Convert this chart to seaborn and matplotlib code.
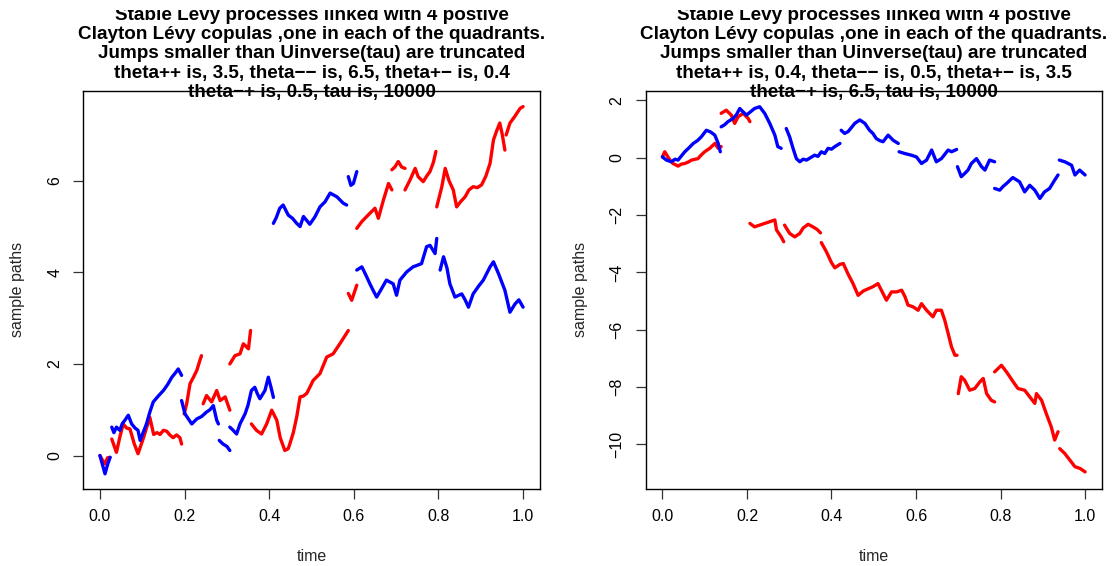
import numpy as np
import pandas as pd
import matplotlib
matplotlib.use("Agg")
import matplotlib.pyplot as plt
from matplotlib.transforms import Bbox
import seaborn as sns

# ---------------------------------------------------------------------------
# Sample paths, one list of (time, value) pieces per series; a new piece
# starts after every jump.
# ---------------------------------------------------------------------------
left_red = [
    [(0, 0), (0.006, -0.1), (0.012, -0.18), (0.018, -0.05), (0.024, -0.04)],
    [(0.028, 0.36), (0.034, 0.2), (0.039, 0.07), (0.047, 0.4), (0.055, 0.69),
     (0.063, 0.6), (0.071, 0.58), (0.081, 0.26), (0.09, 0.04), (0.096, 0.2),
     (0.102, 0.36), (0.11, 0.6), (0.118, 0.83), (0.127, 0.46), (0.135, 0.5),
     (0.142, 0.46), (0.15, 0.55), (0.158, 0.53), (0.165, 0.45), (0.173, 0.39),
     (0.181, 0.45), (0.189, 0.39), (0.193, 0.25)],
    [(0.199, 0.91), (0.205, 1.13), (0.213, 1.57), (0.221, 1.71), (0.229, 1.86),
     (0.236, 2.07), (0.24, 2.18)],
    [(0.244, 1.13), (0.252, 1.31), (0.264, 1.17), (0.276, 1.42), (0.284, 1.2),
     (0.296, 1.28), (0.307, 0.99)],
    [(0.307, 2.0), (0.319, 2.18), (0.331, 2.22), (0.339, 2.44), (0.351, 2.33),
     (0.356, 2.73)],
    [(0.358, 0.69), (0.37, 0.55), (0.382, 0.47), (0.394, 0.69), (0.406, 0.99),
     (0.418, 0.77), (0.426, 0.39), (0.437, 0.11), (0.445, 0.15), (0.449, 0.26),
     (0.457, 0.5), (0.465, 0.84), (0.473, 1.28), (0.481, 1.3), (0.489, 1.36),
     (0.504, 1.64), (0.52, 1.79), (0.536, 2.15), (0.551, 2.22), (0.567, 2.44),
     (0.587, 2.73)],
    [(0.587, 3.54), (0.595, 3.39), (0.603, 3.61), (0.607, 3.72)],
    [(0.607, 4.96), (0.619, 5.11), (0.638, 5.29), (0.65, 5.4), (0.658, 5.18),
     (0.67, 5.58), (0.682, 5.94), (0.69, 5.8)],
    [(0.69, 6.24), (0.697, 6.3), (0.705, 6.42), (0.713, 6.3), (0.721, 6.27)],
    [(0.721, 5.8), (0.733, 6.02), (0.745, 6.27), (0.752, 6.09), (0.764, 5.98),
     (0.772, 6.1), (0.78, 6.2), (0.788, 6.4), (0.794, 6.64)],
    [(0.796, 5.43), (0.808, 5.87), (0.816, 6.27), (0.825, 6.0), (0.835, 5.8),
     (0.843, 5.43), (0.853, 5.55), (0.863, 5.65), (0.872, 5.8), (0.882, 5.87),
     (0.892, 5.85), (0.902, 5.91), (0.912, 6.1), (0.922, 6.38), (0.93, 6.89),
     (0.938, 7.1), (0.945, 7.26), (0.951, 7.0), (0.957, 6.67)],
    [(0.96, 7.0), (0.969, 7.26), (0.98, 7.4), (0.993, 7.58), (1.0, 7.62)],
]

left_blue = [
    [(0, 0), (0.006, -0.2), (0.012, -0.4), (0.018, -0.2), (0.024, -0.04)],
    [(0.028, 0.62), (0.033, 0.5), (0.039, 0.62), (0.047, 0.55), (0.053, 0.7),
     (0.059, 0.77), (0.067, 0.88), (0.075, 0.69), (0.083, 0.6), (0.09, 0.55),
     (0.095, 0.33), (0.102, 0.5), (0.11, 0.69), (0.118, 0.95), (0.126, 1.17),
     (0.138, 1.3), (0.15, 1.42), (0.16, 1.55), (0.17, 1.71), (0.178, 1.8),
     (0.185, 1.89), (0.193, 1.75)],
    [(0.193, 1.2), (0.201, 0.91), (0.209, 0.8), (0.217, 0.69), (0.229, 0.8),
     (0.24, 0.85), (0.252, 0.95), (0.26, 1.0), (0.268, 1.09), (0.276, 0.77),
     (0.28, 0.69)],
    [(0.282, 0.33), (0.291, 0.25), (0.3, 0.2), (0.307, 0.11)],
    [(0.307, 0.62), (0.315, 0.55), (0.323, 0.47), (0.331, 0.69), (0.343, 0.91),
     (0.35, 1.1), (0.358, 1.42), (0.366, 1.49), (0.372, 1.35), (0.378, 1.24),
     (0.39, 1.42), (0.398, 1.71), (0.404, 1.5), (0.41, 1.27)],
    [(0.41, 5.07), (0.417, 5.2), (0.425, 5.4), (0.433, 5.47), (0.445, 5.25),
     (0.455, 5.18), (0.465, 5.07), (0.473, 5.0), (0.481, 5.22), (0.496, 5.05),
     (0.508, 5.21), (0.52, 5.43), (0.532, 5.54), (0.544, 5.73), (0.56, 5.65),
     (0.575, 5.51), (0.583, 5.47)],
    [(0.587, 6.09), (0.593, 5.9), (0.599, 5.94), (0.607, 6.2)],
    [(0.607, 4.05), (0.619, 4.12), (0.628, 3.95), (0.638, 3.75), (0.646, 3.6),
     (0.654, 3.46), (0.666, 3.65), (0.677, 3.83), (0.693, 3.75), (0.701, 3.5),
     (0.709, 3.83), (0.725, 4.01), (0.74, 4.12), (0.76, 4.19), (0.772, 4.56),
     (0.78, 4.59), (0.792, 4.41), (0.796, 4.74)],
    [(0.804, 4.05), (0.812, 4.34), (0.82, 4.1), (0.827, 3.75), (0.839, 3.46),
     (0.855, 3.53), (0.863, 3.4), (0.871, 3.24), (0.882, 3.53), (0.895, 3.7),
     (0.906, 3.83), (0.922, 4.12), (0.93, 4.23), (0.942, 3.97), (0.957, 3.61),
     (0.969, 3.13), (0.981, 3.31), (0.99, 3.4), (1.0, 3.24)],
]

right_red = [
    [(0, 0.03), (0.0055, 0.21), (0.013, 0.03), (0.019, -0.1), (0.025, -0.2),
     (0.037, -0.29), (0.045, -0.22), (0.053, -0.2), (0.061, -0.15),
     (0.069, -0.08), (0.084, -0.03), (0.092, 0.1), (0.1, 0.21), (0.112, 0.33),
     (0.124, 0.5), (0.132, 0.33), (0.139, 0.39)],
    [(0.139, 1.55), (0.151, 1.66), (0.163, 1.49), (0.171, 1.2), (0.179, 1.43),
     (0.191, 1.55), (0.203, 1.37), (0.207, 1.26)],
    [(0.207, -2.29), (0.218, -2.41), (0.23, -2.35), (0.242, -2.29),
     (0.254, -2.23), (0.266, -2.17), (0.27, -2.52), (0.281, -2.76),
     (0.287, -2.93)],
    [(0.289, -2.35), (0.301, -2.64), (0.313, -2.76), (0.325, -2.64),
     (0.333, -2.45), (0.345, -2.32), (0.356, -2.41), (0.366, -2.5),
     (0.374, -2.62)],
    [(0.376, -2.96), (0.388, -3.28), (0.4, -3.66), (0.408, -3.84),
     (0.42, -3.72), (0.428, -3.69), (0.439, -4.05), (0.451, -4.39),
     (0.463, -4.8), (0.475, -4.65), (0.49, -4.55), (0.498, -4.5),
     (0.51, -4.39), (0.518, -4.62), (0.53, -4.97), (0.542, -4.68),
     (0.554, -4.68), (0.566, -4.62), (0.574, -4.85), (0.581, -5.14),
     (0.593, -5.2), (0.605, -5.32), (0.613, -5.09), (0.625, -5.32),
     (0.64, -5.55), (0.648, -5.32), (0.66, -5.32), (0.668, -5.67),
     (0.676, -6.13), (0.684, -6.6), (0.692, -6.89), (0.697, -6.89)],
    [(0.7, -8.23), (0.707, -7.64), (0.715, -7.76), (0.727, -8.11),
     (0.739, -8.05), (0.751, -7.82), (0.759, -7.7), (0.767, -8.23),
     (0.778, -8.46), (0.786, -8.52)],
    [(0.786, -7.47), (0.802, -7.24), (0.814, -7.47), (0.83, -7.82),
     (0.841, -8.05), (0.857, -8.11), (0.869, -8.34), (0.881, -8.57),
     (0.885, -8.23), (0.897, -8.46), (0.908, -8.92), (0.92, -9.39),
     (0.928, -9.85), (0.936, -9.56)],
    [(0.94, -10.15), (0.952, -10.32), (0.964, -10.55), (0.976, -10.78),
     (0.988, -10.84), (1.0, -10.96)],
]

right_blue = [
    [(0, 0.03), (0.0094, -0.08), (0.021, -0.14), (0.03, -0.05), (0.037, -0.08),
     (0.053, 0.21), (0.063, 0.35), (0.073, 0.5), (0.083, 0.6), (0.092, 0.73),
     (0.104, 0.96), (0.114, 0.9), (0.124, 0.79), (0.132, 0.5), (0.137, 0.21)],
    [(0.139, 1.08), (0.147, 1.15), (0.155, 1.26), (0.167, 1.37), (0.175, 1.5),
     (0.183, 1.72), (0.191, 1.6), (0.199, 1.49), (0.208, 1.6), (0.218, 1.72),
     (0.23, 1.78), (0.242, 1.55), (0.254, 1.2), (0.266, 0.79), (0.273, 0.39),
     (0.281, 0.33)],
    [(0.293, 1.02), (0.301, 0.73), (0.309, 0.33), (0.317, -0.03),
     (0.325, -0.14), (0.333, -0.05), (0.341, -0.08), (0.35, 0.0), (0.36, 0.09),
     (0.368, 0.05), (0.376, 0.21), (0.384, 0.15), (0.392, 0.33), (0.4, 0.3),
     (0.408, 0.39), (0.42, 0.5)],
    [(0.423, 0.96), (0.431, 0.85), (0.439, 0.91), (0.447, 1.05), (0.455, 1.2),
     (0.467, 1.32), (0.479, 1.2), (0.49, 0.96), (0.498, 0.85), (0.506, 0.67),
     (0.514, 0.6), (0.522, 0.56), (0.534, 0.79), (0.546, 0.61), (0.558, 0.5)],
    [(0.56, 0.21), (0.573, 0.15), (0.589, 0.09), (0.601, 0.03), (0.613, -0.2),
     (0.625, -0.08), (0.637, 0.27), (0.648, -0.14), (0.66, -0.03),
     (0.676, 0.27), (0.684, 0.21), (0.696, 0.29)],
    [(0.698, -0.31), (0.707, -0.66), (0.715, -0.55), (0.723, -0.43),
     (0.731, -0.2), (0.743, -0.03), (0.755, -0.31), (0.763, -0.43),
     (0.774, -0.08), (0.786, -0.14)],
    [(0.786, -1.07), (0.798, -1.13), (0.806, -1.0), (0.814, -0.9),
     (0.829, -0.69), (0.845, -0.84), (0.857, -1.19), (0.869, -0.96),
     (0.881, -1.13), (0.893, -1.42), (0.904, -1.19), (0.916, -1.07),
     (0.928, -0.78), (0.936, -0.6)],
    [(0.939, -0.08), (0.952, -0.14), (0.96, -0.2), (0.968, -0.26),
     (0.976, -0.6), (0.987, -0.43), (1.0, -0.6)],
]

left_title = [
    "Stable Levy processes linked with 4 postive",
    "Clayton Lévy copulas ,one in each of the quadrants.",
    "Jumps smaller than Uinverse(tau) are truncated",
    "theta++ is, 3.5, theta\u2212\u2212 is, 6.5, theta+\u2212 is, 0.4",
    "theta\u2212+ is, 0.5, tau is, 10000",
]
right_title = [
    "Stable Levy processes linked with 4 postive",
    "Clayton Lévy copulas ,one in each of the quadrants.",
    "Jumps smaller than Uinverse(tau) are truncated",
    "theta++ is, 0.4, theta\u2212\u2212 is, 0.5, theta+\u2212 is, 3.5",
    "theta\u2212+ is, 6.5, tau is, 10000",
]

time_ticks = [0.0, 0.2, 0.4, 0.6, 0.8, 1.0]
left_yticks = [0, 2, 4, 6]
right_yticks = [-10, -8, -6, -4, -2, 0, 2]


def to_frame(series):
    rows = []
    for name, pieces in series.items():
        for k, piece in enumerate(pieces):
            for t, v in piece:
                rows.append({"time": t, "value": v, "series": name,
                             "piece": f"{name}-{k}"})
    return pd.DataFrame(rows)


sns.set_theme(style="ticks")
plt.rcParams["font.family"] = ["Liberation Sans", "DejaVu Sans"]

W, H = 1115, 566
fig = plt.figure(figsize=(W / 100, H / 100), dpi=100)
fig.patch.set_facecolor("white")

box_top, box_bottom = 91, 488.5
box_h = box_bottom - box_top
panels = [
    (83, 540, to_frame({"red": left_red, "blue": left_blue}),
     (-0.72, 7.96), left_yticks, left_title, 19),
    (645.5, 1102, to_frame({"red": right_red, "blue": right_blue}),
     (-11.54, 2.33), right_yticks, right_title, 582),
]

palette = {"red": "#ff0000", "blue": "#0000ff"}

for x0, x1, df, ylim, yticks, title, ylab_x in panels:
    ax = fig.add_axes([x0 / W, 1 - box_bottom / H, (x1 - x0) / W, box_h / H])
    ax.set_facecolor("white")
    sns.lineplot(data=df, x="time", y="value", hue="series", units="piece",
                 estimator=None, sort=False, palette=palette, legend=False,
                 linewidth=2.4, ax=ax)
    ax.set_xlim(-0.04, 1.04)
    ax.set_ylim(*ylim)
    ax.set_xticks(time_ticks)
    ax.set_xticklabels([f"{v:.1f}" for v in time_ticks])
    ax.set_yticks(yticks)
    ax.set_yticklabels([str(v).replace("-", "\u2212") for v in yticks],
                       rotation=90, va="center")
    ax.tick_params(axis="both", direction="out", length=7, width=0.9,
                   color="#333333", labelsize=11.5, labelcolor="black", pad=8)
    for sp in ax.spines.values():
        sp.set_color("black")
        sp.set_linewidth(1.0)
    ax.set_xlabel("time", fontsize=11.5)
    ax.set_ylabel("sample paths", fontsize=11.5)
    # label anchors: top edge of "time", right edge of "sample paths"
    ax.xaxis.set_label_coords(0.5, (box_bottom - 549) / box_h)
    ax.yaxis.set_label_coords((ylab_x + 6 - x0) / (x1 - x0), 0.5)

    cx = (x0 + x1) / 2 / W
    baselines = [19.5, 39, 58.5, 77.8, 97]
    for line, b in zip(title, baselines):
        txt = fig.text(cx, 1 - b / H, line, ha="center", va="baseline",
                       fontsize=13.6, fontweight="bold", color="black",
                       zorder=5)
        txt.set_clip_box(Bbox([[0, 0], [W, H - 10]]))
        txt.set_clip_on(True)

fig.savefig("out.png", dpi=100, facecolor="white")
